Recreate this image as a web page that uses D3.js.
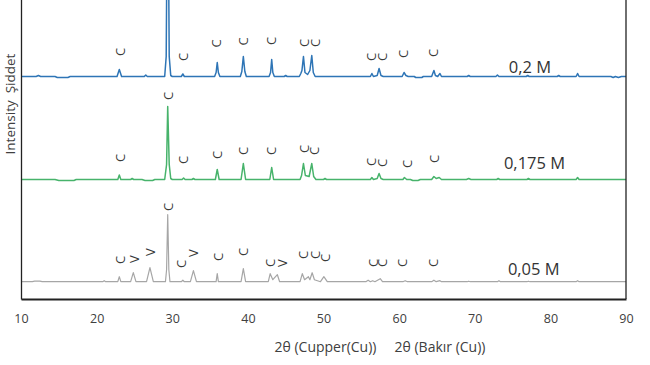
<!DOCTYPE html>
<html>
<head>
<meta charset="utf-8">
<script src="https://cdn.jsdelivr.net/npm/d3@7"></script>
<style>
  body { margin: 0; background: #fff; }
  text { font-family: "Open Sans", "DejaVu Sans", sans-serif; }
</style>
</head>
<body>
<div id="chart"></div>
<script>
// 2θ ticks
const xTicks = [10, 20, 30, 40, 50, 60, 70, 80, 90];

// sample names and vertical offsets of each pattern (a.u.)
const sampleNames = ["0,2 M", "0,175 M", "0,05 M"];
const sampleOffsets = [222.5, 119.5, 17.3];

// patterns: [2θ, intensity above baseline]
const pattern02 = [
  [10, 0], [12.0, 0], [12.3, 1], [12.6, 0], [14.5, 0], [14.8, -1], [16.2, -1], [16.5, 0],
  [22.7, 0], [23.0, 7], [23.3, 0],
  [26.3, 0], [26.5, 1.5], [26.7, 0],
  [29.0, 0], [29.2, 20], [29.4, 240], [29.6, 20], [29.8, 1], [30.0, 0],
  [31.2, 0], [31.4, 2.5], [31.6, 0],
  [35.6, 0], [35.8, 4], [35.95, 14], [36.1, 4], [36.3, 0],
  [39.0, 0], [39.2, 5], [39.4, 20], [39.6, 5], [39.8, 0],
  [42.8, 0], [43.0, 4], [43.15, 17], [43.3, 4], [43.5, 0],
  [44.8, 0], [45.0, 1], [45.2, 0],
  [46.8, 0], [47.0, 3], [47.15, 6], [47.35, 20], [47.55, 4], [47.9, 2], [48.2, 6], [48.45, 21], [48.65, 4], [48.9, 0],
  [56.2, 0], [56.4, 3], [56.6, 0], [57.1, 1], [57.35, 8], [57.6, 1], [57.9, 0],
  [60.4, 0], [60.65, 4], [60.9, 1], [61.2, 0],
  [62.0, 0], [62.2, -1], [63.0, -1], [63.2, 0],
  [64.3, 0], [64.6, 6], [64.8, 1], [65.1, 0], [65.4, 3], [65.6, 0],
  [69.0, 0], [69.2, 1], [69.4, 0], [72.8, 0], [73.0, 1.5], [73.2, 0],
  [76.8, 0], [77.0, 1], [77.2, 0], [80.9, 0], [81.1, 1], [81.3, 0],
  [83.4, 0], [83.6, 3], [83.8, 0], [88.0, 0], [88.3, -1], [88.6, 0], [89.0, -1], [89.4, 0], [90, 0]
];
const pattern0175 = [
  [10, 0], [14.5, 0], [15.0, -1], [17.0, -1], [17.3, 0],
  [22.8, 0], [23.0, 4.5], [23.2, 0],
  [24.5, 0], [24.7, 1], [24.9, 0],
  [26.0, 0], [26.4, -1], [27.4, -1], [27.7, 0],
  [29.0, 0], [29.25, 15], [29.4, 73], [29.6, 15], [29.8, 1], [30.0, 0],
  [31.3, 0], [31.5, 1.5], [31.7, 0],
  [32.6, 0], [32.8, 1], [33.0, 0],
  [35.7, 0], [35.95, 10], [36.2, 0],
  [39.1, 0], [39.4, 16], [39.7, 0],
  [42.9, 0], [43.15, 12], [43.4, 0],
  [46.9, 0], [47.1, 4], [47.35, 16], [47.6, 4], [48.1, 3], [48.45, 16], [48.7, 3], [49.0, 0],
  [50.0, 0], [50.2, 1], [50.4, 0],
  [56.2, 0], [56.4, 2], [56.6, 0], [57.1, 1], [57.35, 6], [57.6, 1], [57.9, 0],
  [60.5, 0], [60.7, 2], [61.0, 0],
  [61.5, 0], [61.8, -1], [62.5, -1], [62.8, 0],
  [64.3, 0], [64.6, 3], [64.9, 1], [65.3, 2], [65.6, 0],
  [68.9, 0], [69.2, 1], [69.5, 0], [72.9, 0], [73.1, 1], [73.3, 0],
  [76.9, 0], [77.1, 1], [77.3, 0], [83.4, 0], [83.6, 2], [83.8, 0], [90, 0]
];
const pattern005 = [
  [10, 0], [11.5, 0], [11.8, 0.5], [12.5, 0.5], [12.8, 0],
  [20.8, 0], [21.0, 1], [21.2, 0],
  [22.8, 0], [23.0, 5], [23.2, 0],
  [24.5, 0], [24.85, 9], [25.2, 0],
  [26.6, 0], [27.05, 14], [27.5, 0],
  [29.1, 0], [29.25, 12], [29.4, 67], [29.55, 12], [29.7, 0],
  [31.2, 0], [31.4, 1.5], [31.6, 0],
  [32.4, 0], [32.8, 11], [33.2, 0],
  [35.8, 0], [35.95, 8], [36.1, 0],
  [39.1, 0], [39.4, 13], [39.7, 0],
  [42.7, 0], [42.95, 8], [43.3, 2], [43.9, 7], [44.2, 0],
  [46.9, 0], [47.2, 8], [47.5, 2], [48.0, 5], [48.2, 2], [48.5, 9], [48.8, 2], [49.2, 1], [49.6, 0], [50.05, 5], [50.5, 0],
  [55.6, 0], [55.9, 1.5], [56.2, 0], [56.5, 1], [56.8, 0], [57.5, 3], [57.8, 0],
  [60.5, 0], [60.8, 1], [61.1, 0],
  [64.3, 0], [64.6, 1.5], [64.9, 0], [65.4, 1], [65.6, 0],
  [69.0, 0], [69.2, 0.5], [69.4, 0], [73.0, 0], [73.2, 1], [73.4, 0],
  [76.9, 0], [77.1, 0.5], [77.3, 0], [83.4, 0], [83.6, 1], [83.8, 0], [90, 0]
];
const patterns = [pattern02, pattern0175, pattern005];

// phase marks: [2θ, height above baseline, phase]  C = calcite, V = vaterite
const marks02 = [
  [23.1, 24.5, "C"], [31.4, 19.5, "C"], [35.85, 33, "C"], [39.35, 35, "C"], [43.05, 35.5, "C"],
  [47.4, 33.5, "C"], [48.9, 33.5, "C"], [56.3, 19.5, "C"], [57.7, 19.5, "C"], [60.5, 22.5, "C"], [64.5, 23.5, "C"]
];
const marks0175 = [
  [23.15, 21.5, "C"], [29.45, 83.5, "C"], [31.4, 19.5, "C"], [35.9, 24.5, "C"], [39.35, 28.5, "C"],
  [43.05, 28.5, "C"], [47.4, 30.5, "C"], [48.7, 28.5, "C"], [56.3, 17.5, "C"], [57.7, 16.5, "C"],
  [61.0, 15.5, "C"], [64.6, 20.5, "C"]
];
const marks005 = [
  [23.1, 21.7, "C"], [24.9, 22.7, "V"], [27.0, 29.7, "V"], [29.45, 74.7, "C"], [31.15, 17.7, "C"],
  [32.75, 28.7, "V"], [36.05, 24.7, "C"], [39.35, 29.7, "C"], [42.9, 18.7, "C"], [44.5, 18.7, "V"],
  [47.3, 26.7, "C"], [48.9, 26.7, "C"], [50.2, 23.7, "C"], [56.55, 18.7, "C"], [57.7, 18.7, "C"],
  [60.4, 18.7, "C"], [64.5, 18.7, "C"]
];
const marks = [marks02, marks0175, marks005];

// name label positions (2θ, height above baseline)
const nameX = [77.3, 77.9, 77.8];
const nameY = [10.5, 17.5, 13.7];

const colors = ["#2e75b6", "#47b36b", "#a6a6a6"];
const widths = [1.5, 1.5, 1.2];

const width = 650;
const height = 365;
const margin = { top: -1, right: 24, bottom: 66, left: 21 };

const svg = d3.select("#chart")
  .append("svg")
  .attr("width", width)
  .attr("height", height);

const x = d3.scaleLinear()
  .domain([10, 90])
  .range([margin.left, width - margin.right]);

const y = d3.scaleLinear()
  .domain([0, 300])
  .range([height - margin.bottom, margin.top]);

const line = d3.line()
  .x(d => x(d[0]))
  .y(d => d[1]);

patterns.forEach((p, i) => {
  svg.append("path")
    .datum(p.map(d => [d[0], y(d[1] + sampleOffsets[i])]))
    .attr("fill", "none")
    .attr("stroke", colors[i])
    .attr("stroke-width", widths[i])
    .attr("stroke-linejoin", "round")
    .attr("d", line);

  svg.append("g")
    .selectAll("text")
    .data(marks[i])
    .join("text")
    .attr("transform", d => `translate(${x(d[0])},${y(d[1] + sampleOffsets[i])}) rotate(-90)`)
    .attr("text-anchor", "middle")
    .attr("dominant-baseline", "central")
    .attr("font-size", 13)
    .attr("fill", "#3a3a3a")
    .text(d => d[2]);

  svg.append("text")
    .attr("x", x(nameX[i]))
    .attr("y", y(nameY[i] + sampleOffsets[i]))
    .attr("text-anchor", "middle")
    .attr("dominant-baseline", "central")
    .attr("font-size", 16.5)
    .attr("fill", "#333")
    .text(sampleNames[i]);
});

// frame
svg.append("g")
  .attr("transform", `translate(0,${y(0)})`)
  .call(d3.axisBottom(x).tickValues(xTicks).tickSize(0).tickPadding(15))
  .call(g => g.select(".domain").attr("stroke", "#222").attr("stroke-width", 2))
  .call(g => g.selectAll(".tick text")
    .attr("font-size", 12.5)
    .attr("fill", "#404040")
    .style("font-family", "'Open Sans', sans-serif"));

svg.append("g")
  .attr("transform", `translate(${x(10)},0)`)
  .call(d3.axisLeft(y).tickValues([]).tickSizeOuter(0))
  .call(g => g.select(".domain").attr("stroke", "#222").attr("stroke-width", 1.3));

svg.append("line")
  .attr("x1", x(90)).attr("x2", x(90))
  .attr("y1", y(300)).attr("y2", y(0))
  .attr("stroke", "#222")
  .attr("stroke-width", 1.3);

// axis titles
const xTitles = ["2θ (Cupper(Cu))", "2θ (Bakır (Cu))"];
const xTitleX = [325.5, 440];
svg.append("g")
  .selectAll("text")
  .data(xTitles)
  .join("text")
  .attr("x", (d, i) => xTitleX[i])
  .attr("y", 346)
  .attr("text-anchor", "middle")
  .attr("dominant-baseline", "central")
  .attr("font-size", 14)
  .attr("fill", "#404040")
  .text(d => d);

svg.append("text")
  .attr("transform", "translate(10,104) rotate(-90)")
  .attr("text-anchor", "middle")
  .attr("dominant-baseline", "central")
  .attr("font-size", 13.5)
  .attr("fill", "#404040")
  .attr("xml:space", "preserve")
  .text("Intensity  Şiddet");
</script>
</body>
</html>
